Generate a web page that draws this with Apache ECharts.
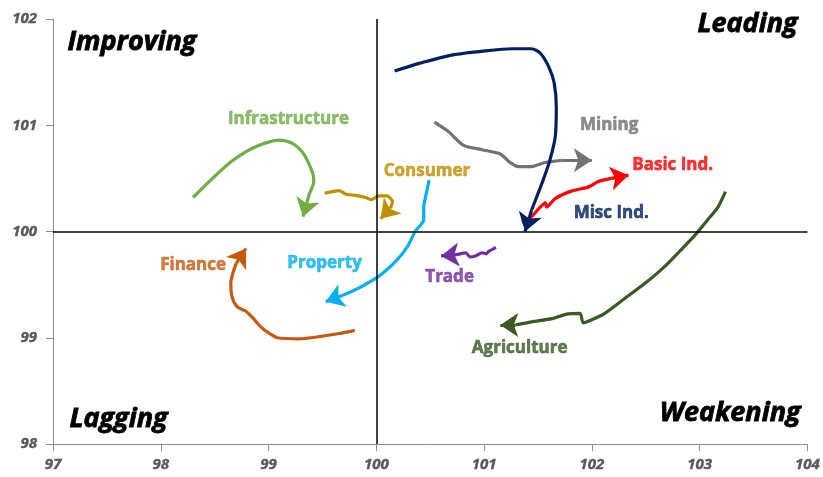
<!DOCTYPE html>
<html><head><meta charset="utf-8">
<script src="https://cdn.jsdelivr.net/npm/echarts@6/dist/echarts.min.js"></script>
<style>html,body{margin:0;padding:0;background:#fff}#c{width:823px;height:477px}</style>
</head><body><div id="c"></div>
<script>
// Axis ticks
const xTicks = [97, 98, 99, 100, 101, 102, 103, 104];
const yTicks = [98, 99, 100, 101, 102];

// Sector trails: [RS-Ratio, RS-Momentum]
const sectorNames = ['Infrastructure','Consumer','Mining','Basic Ind.','Misc Ind.','Finance','Property','Trade','Agriculture'];
const infrastructure = [[98.30,100.32],[98.48,100.50],[98.67,100.67],[98.885,100.80],[99.10,100.86],[99.22,100.83],[99.32,100.74],[99.41,100.55],[99.42,100.47],[99.38,100.36],[99.32,100.14]];
const consumer = [[99.52,100.36],[99.655,100.385],[99.72,100.35],[99.81,100.34],[99.90,100.32],[99.95,100.30],[100.025,100.335],[100.10,100.335],[100.15,100.28],[100.13,100.22],[100.04,100.12]];
const mining = [[100.54,101.03],[100.67,100.94],[100.81,100.81],[100.98,100.77],[101.15,100.73],[101.24,100.65],[101.32,100.61],[101.43,100.61],[101.57,100.65],[101.72,100.67],[102.00,100.67]];
const basicInd = [[101.35,100.09],[101.44,100.14],[101.52,100.23],[101.57,100.27],[101.58,100.23],[101.66,100.31],[101.81,100.38],[101.97,100.42],[102.06,100.47],[102.18,100.50],[102.34,100.53]];
const miscInd = [[100.17,101.51],[100.39,101.58],[100.70,101.66],[101.01,101.70],[101.26,101.72],[101.44,101.72],[101.52,101.68],[101.60,101.55],[101.65,101.40],[101.67,101.17],[101.66,100.89],[101.61,100.67],[101.55,100.49],[101.49,100.33],[101.44,100.20],[101.38,100.00]];
const finance = [[99.80,99.07],[99.655,99.04],[99.47,99.01],[99.285,98.99],[99.08,99.00],[99.01,99.04],[98.93,99.10],[98.86,99.18],[98.79,99.25],[98.71,99.29],[98.66,99.39],[98.65,99.52],[98.67,99.61],[98.70,99.70],[98.79,99.84]];
const property = [[100.49,100.485],[100.46,100.34],[100.44,100.23],[100.44,100.11],[100.36,100.00],[100.29,99.86],[100.19,99.73],[100.025,99.58],[99.84,99.47],[99.69,99.40],[99.53,99.34]];
const trade = [[101.11,99.85],[101.04,99.81],[101.02,99.79],[100.98,99.80],[100.92,99.77],[100.87,99.76],[100.83,99.80],[100.78,99.79],[100.72,99.78],[100.60,99.77]];
const agriculture = [[103.24,100.375],[103.17,100.23],[103.075,100.11],[102.97,99.98],[102.83,99.83],[102.675,99.67],[102.49,99.51],[102.305,99.37],[102.12,99.23],[102.00,99.17],[101.92,99.14],[101.89,99.23],[101.78,99.225],[101.63,99.18],[101.44,99.15],[101.29,99.12],[101.15,99.12]];
const trails = [infrastructure, consumer, mining, basicInd, miscInd, finance, property, trade, agriculture];

// Label anchors (data coordinates)
const labelAnchors = [[99.185,101.06],[100.47,100.57],[102.16,101.00],[102.75,100.62],[102.18,100.175],[98.30,99.685],[99.52,99.705],[100.68,99.57],[101.33,98.905]];

// Quadrant names
const quadrants = ['Improving','Leading','Lagging','Weakening'];

// Styles
const colors = ['#70AD47','#BF9000','#767171','#FF0000','#002060','#C55A11','#00B0F0','#7030A0','#3B5A23'];
const FONT = '"Open Sans", "Noto Sans", sans-serif';

const chart = echarts.init(document.getElementById('c'), null, {renderer:'canvas'});
const series = [];
trails.forEach((d, i) => {
  const s = {
    type: 'line', name: sectorNames[i], data: d.slice(0, d.length - 1), smooth: 0.25, showSymbol: false, silent: true,
    lineStyle: {color: colors[i], width: 3.2}, itemStyle: {color: colors[i]}, z: 3
  };
  if (i === 0) {
    s.markLine = {
      silent: true, symbol: 'none', label: {show: false}, animation: false,
      lineStyle: {color: '#000', width: 1.5, type: 'solid'},
      data: [{xAxis: 100}, {yAxis: 100}]
    };
  }
  series.push(s);
});
series.push({
  type: 'lines', coordinateSystem: 'cartesian2d', silent: true, z: 4,
  symbol: ['none', 'arrow'], symbolSize: 18,
  lineStyle: {width: 3.2, opacity: 1},
  data: trails.map((d, i) => ({coords: [d[d.length - 2], d[d.length - 1]], lineStyle: {color: colors[i]}}))
});
series.push({
  type: 'scatter', silent: true, symbolSize: 1, z: 5,
  itemStyle: {color: 'transparent'},
  label: {show: true, position: 'inside', formatter: p => p.name, fontFamily: FONT, fontWeight: 'bold', fontSize: 17},
  data: sectorNames.map((n, i) => ({name: n, value: labelAnchors[i],
    label: {color: colors[i], textBorderColor: colors[i], textBorderWidth: 0.6}}))
});

const qFont = 'italic bold 27px "Open Sans", "Noto Sans", sans-serif';
const qStyle = t => ({text: t, font: qFont, fill: '#000', stroke: '#000', lineWidth: 0.8});
const tickLabel = {color: '#595959', fontFamily: FONT, fontStyle: 'italic', fontWeight: 'bold', fontSize: 15,
  textBorderColor: '#595959', textBorderWidth: 0.4};
chart.setOption({
  animation: false,
  grid: {left: 53, right: 13, top: 19, bottom: 33},
  xAxis: {
    type: 'value', min: 97, max: 104, interval: 1,
    axisLine: {show: true, onZero: false, lineStyle: {color: '#8C8C8C', width: 1}},
    axisTick: {show: true, length: 7, lineStyle: {color: '#8C8C8C'}},
    splitLine: {show: false},
    axisLabel: Object.assign({margin: 13, formatter: v => xTicks.includes(v) ? String(v) : ''}, tickLabel)
  },
  yAxis: {
    type: 'value', min: 98, max: 102, interval: 1,
    axisLine: {show: true, onZero: false, lineStyle: {color: '#8C8C8C', width: 1}},
    axisTick: {show: true, length: 7, lineStyle: {color: '#8C8C8C'}},
    splitLine: {show: false},
    axisLabel: Object.assign({margin: 16, formatter: v => yTicks.includes(v) ? String(v) : ''}, tickLabel)
  },
  graphic: [
    {type: 'text', left: 67, top: 28, style: qStyle(quadrants[0])},
    {type: 'text', right: 25, top: 10, style: qStyle(quadrants[1])},
    {type: 'text', left: 69, top: 405, style: qStyle(quadrants[2])},
    {type: 'text', right: 22, top: 399, style: qStyle(quadrants[3])}
  ],
  series: series
});
</script></body></html>
